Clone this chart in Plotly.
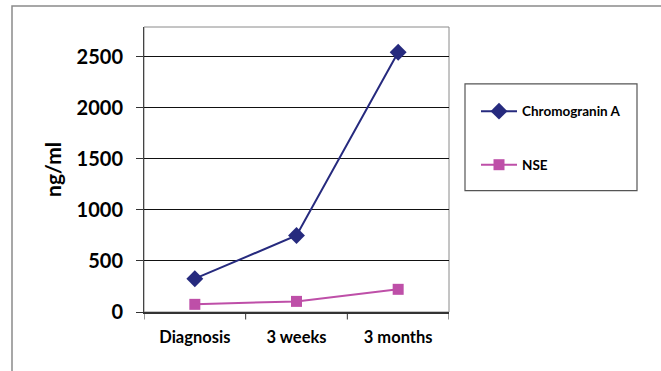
import plotly.graph_objects as go

# Time points and measured serum markers (ng/ml)
categories = ["Diagnosis", "3 weeks", "3 months"]
chromogranin_a = [326, 749, 2543]
nse = [75, 104, 222]
y_ticks = [0, 500, 1000, 1500, 2000, 2500]

NAVY = "#262A7E"
PINK = "#BE4FA8"
FONT = "Lato, 'Open Sans', sans-serif"

fig = go.Figure()
fig.add_trace(go.Scatter(
    x=[0, 1, 2], y=chromogranin_a, name="Chromogranin A", legendgroup="a",
    mode="lines+markers",
    line=dict(color=NAVY, width=2),
    marker=dict(symbol="diamond", size=13, color=NAVY),
))
fig.add_trace(go.Scatter(
    x=[0, 1, 2], y=nse, name="NSE", legendgroup="b",
    mode="lines+markers",
    line=dict(color=PINK, width=2),
    marker=dict(symbol="square", size=11, color=PINK),
))

# plot area in pixels: x 144..449, y 27..312.5
L, R, T, B = 144, 449, 27, 312.5
W, H = 661, 371
pw, ph = R - L, B - T

def px(x):
    return (x - L) / pw

def py(y):
    return (B - y) / ph

shapes = [
    # outer frame around the whole chart
    dict(type="rect", xref="paper", yref="paper",
         x0=px(12), x1=px(700), y0=py(6), y1=py(420),
         line=dict(color="#8A8A8A", width=1.5), fillcolor="rgba(0,0,0,0)"),
    # legend frame
    dict(type="rect", xref="paper", yref="paper",
         x0=px(465), x1=px(637), y0=py(84), y1=py(191),
         line=dict(color="#555555", width=1.2), fillcolor="rgba(0,0,0,0)"),
]
# category boundary ticks below the x axis
for b in [-0.5, 0.5, 1.5, 2.5]:
    shapes.append(dict(type="line", xref="x", yref="paper",
                       x0=b, x1=b, y0=0, y1=py(320),
                       line=dict(color="#333333", width=1)))

fig.update_layout(
    width=W, height=H,
    margin=dict(l=L, r=W - R, t=T, b=H - B),
    paper_bgcolor="white", plot_bgcolor="white",
    showlegend=True,
    legend=dict(x=px(476), y=py(96), xanchor="left", yanchor="top",
                bgcolor="rgba(0,0,0,0)", tracegroupgap=33,
                traceorder="grouped", itemwidth=36,
                font=dict(family=FONT, size=13.5, color="black", weight="bold")),
    shapes=shapes,
    xaxis=dict(
        range=[-0.5, 2.5], tickmode="array", tickvals=[0, 1, 2],
        ticktext=categories, showgrid=False, zeroline=False,
        showline=True, linecolor="#333333", linewidth=1.5, mirror=False,
        ticks="", tickfont=dict(family=FONT, size=16.5, color="black", weight="bold"),
        ticklabelstandoff=9,
    ),
    yaxis=dict(
        range=[0, 2790], tickmode="array", tickvals=y_ticks,
        showgrid=True, gridcolor="#111111", gridwidth=1,
        zeroline=False, showline=True, linecolor="#444444", linewidth=1,
        ticks="outside", ticklen=7, tickcolor="#333333",
        tickfont=dict(family=FONT, size=20, color="black", weight="bold"),
        ticklabelstandoff=9,
        title=dict(text="ng/ml", standoff=9,
                   font=dict(family=FONT, size=21, color="black", weight="bold")),
    ),
)

# right and top borders of the plot area
fig.add_shape(type="rect", xref="paper", yref="paper", x0=0, x1=1, y0=0, y1=1,
              line=dict(color="#8A8A8A", width=1), fillcolor="rgba(0,0,0,0)", layer="below")

fig.write_html("out.html")
